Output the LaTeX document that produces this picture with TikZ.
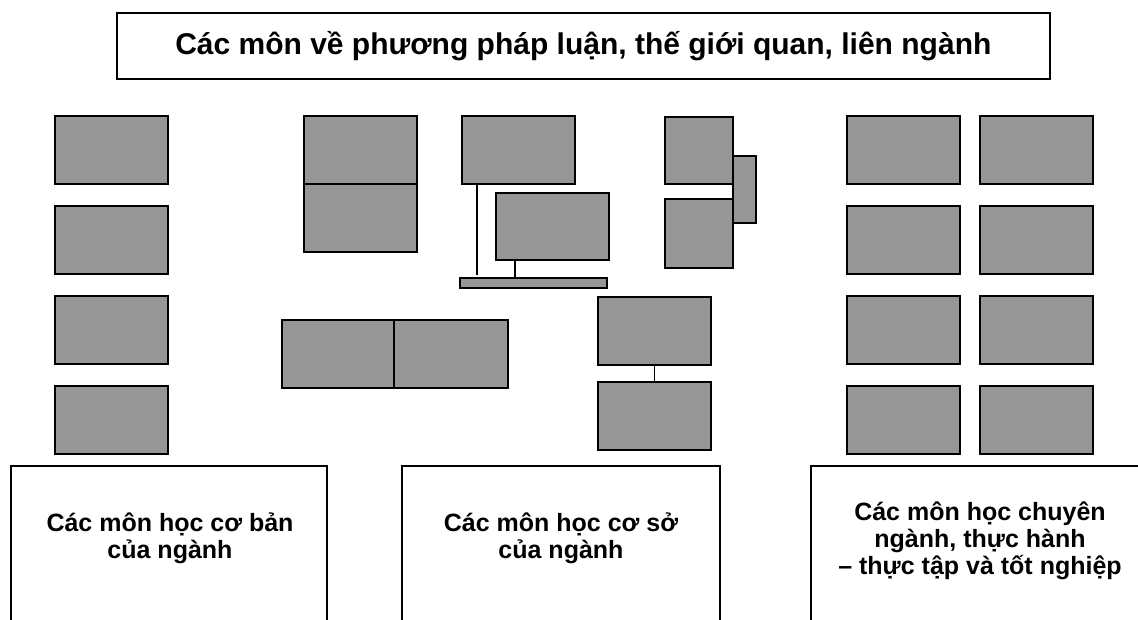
\documentclass[tikz,border=0pt]{standalone}
\usepackage{fontspec}
\setmainfont{Liberation Sans}
\usetikzlibrary{calc}
\begin{document}
\begin{tikzpicture}[x=1pt,y=-1pt,
  line width=1.6pt,
  gbox/.style={draw=black,fill=boxgray,rectangle,anchor=north west,inner sep=0pt,outer sep=0pt},
  lbl/.style={align=center,font=\bfseries\fontsize{25}{27}\selectfont,inner sep=0pt},
  conn/.style={draw=black,line width=1.6pt}]
\definecolor{boxgray}{HTML}{969696}
\useasboundingbox (0,0) rectangle (1138,620);
% title
\node[draw=black,line width=1.6pt,anchor=north west,minimum width=933pt,minimum height=66pt,inner sep=0pt,
  font=\bfseries\fontsize{30}{34}\selectfont] (title) at (116,12) {Các môn về phương pháp luận, thế giới quan, liên ngành};
% left column
\node[gbox,minimum width=113pt,minimum height=68pt] (a1) at (55,116) {};
\node[gbox,minimum width=113pt,minimum height=68pt] (a2) at (55,206) {};
\node[gbox,minimum width=113pt,minimum height=68pt] (a3) at (55,296) {};
\node[gbox,minimum width=113pt,minimum height=68pt] (a4) at (55,386) {};
% stacked pair
\node[gbox,minimum width=113pt,minimum height=68pt] (b1) at (304,116) {};
\node[gbox,minimum width=113pt,minimum height=68pt] (b2) at (304,184) {};
% center cluster
\node[gbox,minimum width=113pt,minimum height=68pt] (c1) at (462,116) {};
\node[gbox,minimum width=113pt,minimum height=67pt] (c2) at (496,193) {};
\node[gbox,minimum width=147pt,minimum height=10pt] (bar) at (460,278) {};
\draw[conn] ($(c1.south west)+(15,0)$) -- ($(bar.north west)+(17,-3)$);
\draw[conn] ($(c2.south west)+(19,0)$) -- ($(bar.north west)+(55,0)$);
% side-by-side pair
\node[gbox,minimum width=112pt,minimum height=68pt] (d1) at (282,320) {};
\node[gbox,minimum width=114pt,minimum height=68pt] (d2) at (394,320) {};
% right center stack
\node[gbox,minimum width=113pt,minimum height=68pt] (e1) at (598,297) {};
\node[gbox,minimum width=113pt,minimum height=68pt] (e2) at (598,382) {};
\draw[conn] (e1.south) -- (e2.north);
% small cluster
\node[gbox,minimum width=68pt,minimum height=67pt] (f1) at (665,117) {};
\node[gbox,minimum width=68pt,minimum height=69pt] (f2) at (665,199) {};
\node[gbox,minimum width=23pt,minimum height=67pt] (f3) at (733,156) {};
% right columns
\node[gbox,minimum width=113pt,minimum height=68pt] (g1) at (847,116) {};
\node[gbox,minimum width=113pt,minimum height=68pt] (g2) at (847,206) {};
\node[gbox,minimum width=113pt,minimum height=68pt] (g3) at (847,296) {};
\node[gbox,minimum width=113pt,minimum height=68pt] (g4) at (847,386) {};
\node[gbox,minimum width=113pt,minimum height=68pt] (h1) at (980,116) {};
\node[gbox,minimum width=113pt,minimum height=68pt] (h2) at (980,206) {};
\node[gbox,minimum width=113pt,minimum height=68pt] (h3) at (980,296) {};
\node[gbox,minimum width=113pt,minimum height=68pt] (h4) at (980,386) {};
% bottom open boxes
\draw[line width=1.4pt] (11,630) -- (11,466) -- (327,466) -- (327,630);
\draw[line width=1.4pt] (402,630) -- (402,466) -- (720,466) -- (720,630);
\draw[line width=1.4pt] (811,630) -- (811,466) -- (1149,466) -- (1149,630);
\node[lbl] (t1) at (170,538) {Các môn học cơ bản\\của ngành};
\node[lbl] (t2) at (561,538) {Các môn học cơ sở\\của ngành};
\node[lbl] (t3) at (980,541) {Các môn học chuyên\\ngành, thực hành\\– thực tập và tốt nghiệp};
\end{tikzpicture}
\end{document}
